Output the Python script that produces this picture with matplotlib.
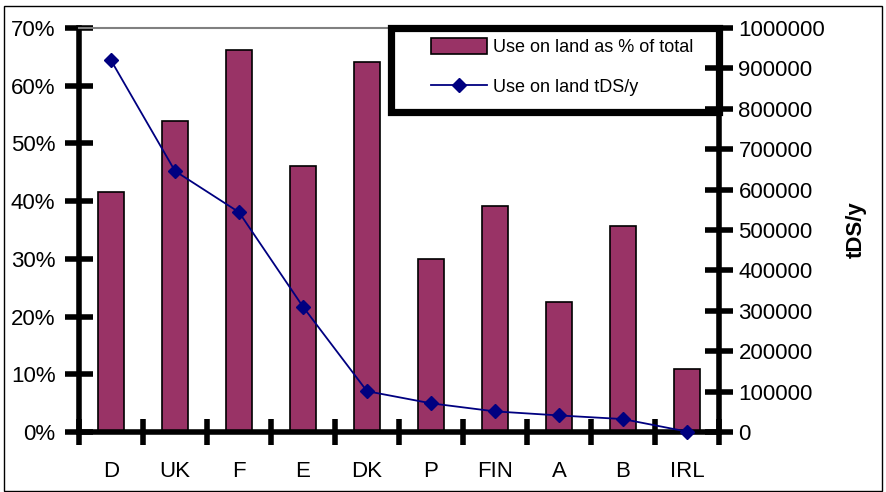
import numpy as np
import matplotlib
matplotlib.use("Agg")
import matplotlib.pyplot as plt
from matplotlib.patches import Rectangle
from matplotlib.ticker import FixedLocator, FuncFormatter

plt.rcParams['font.family'] = ['Liberation Sans', 'DejaVu Sans']
plt.rcParams['xtick.major.pad'] = 21

countries = ["D", "UK", "F", "E", "DK", "P", "FIN", "A", "B", "IRL"]
pct_on_land = [41.6, 53.9, 66.2, 46.1, 64.1, 30.0, 39.2, 22.5, 35.7, 10.9]
tds_on_land = [920000, 646000, 544000, 310000, 101000, 71000, 51000, 41000, 32000, 1000]

W, H = 887, 492
fig = plt.figure(figsize=(W / 100, H / 100), dpi=100)
ax = fig.add_axes([79 / W, 1 - 432 / H, 640 / W, 404 / H])

x = np.arange(len(countries))
bars = ax.bar(x, pct_on_land, width=0.41, color="#993366", edgecolor="black",
              linewidth=1.2, zorder=2)
ax.set_xlim(-0.5, len(countries) - 0.5)
ax.set_ylim(0, 70)
ax.set_yticks(np.arange(0, 71, 10))
ax.yaxis.set_major_formatter(FuncFormatter(lambda v, p: f"{int(v)}%"))
ax.set_xticks(x)
ax.set_xticklabels(countries)
ax.xaxis.set_minor_locator(FixedLocator(np.arange(-0.5, len(countries), 1.0)))

ax.tick_params(axis="y", direction="inout", length=20, width=4, labelsize=16, pad=7)
ax.tick_params(axis="x", which="minor", direction="inout", length=19, width=4)
ax.tick_params(axis="x", which="major", direction="out", length=0, labelsize=16, pad=21)

for s in ("left", "bottom"):
    ax.spines[s].set_linewidth(4)
ax.spines["top"].set_color("#808080")
ax.spines["top"].set_linewidth(1.5)
ax.spines["right"].set_visible(False)

ax2 = ax.twinx()
line, = ax2.plot(x, tds_on_land, color="#000080", linewidth=1.3, marker="D",
                 markersize=7, clip_on=False, zorder=3)
ax2.set_ylim(0, 1000000)
ax2.set_yticks(np.arange(0, 1000001, 100000))
ax2.yaxis.set_major_formatter(FuncFormatter(lambda v, p: f"{int(v)}"))
ax2.tick_params(axis="y", direction="inout", length=20, width=4, labelsize=16, pad=4)
ax2.spines["right"].set_linewidth(4)
for s in ("left", "top", "bottom"):
    ax2.spines[s].set_visible(False)
ax2.set_ylabel("tDS/y", fontsize=16, fontweight="bold", labelpad=15)

# legend
fig.patches.append(Rectangle((391.5 / W, 1 - 112 / H), (719 - 391.5) / W, 84 / H,
                             transform=fig.transFigure, fill=False,
                             edgecolor="black", linewidth=5.2, zorder=5))
leg = fig.legend([bars, line], ["Use on land as % of total", "Use on land tDS/y"],
                 loc="upper left", bbox_to_anchor=(424 / W, 1 - 31 / H),
                 bbox_transform=fig.transFigure, frameon=False, fontsize=13,
                 handlelength=3.1, handleheight=1.0, handletextpad=0.3,
                 labelspacing=1.2, borderaxespad=0)

# outer border
fig.patches.append(Rectangle((4 / W, 1 / H), (882 - 4) / W, (485) / H,
                             transform=fig.transFigure, fill=False,
                             edgecolor="black", linewidth=1))

fig.savefig("out.png", dpi=100)
